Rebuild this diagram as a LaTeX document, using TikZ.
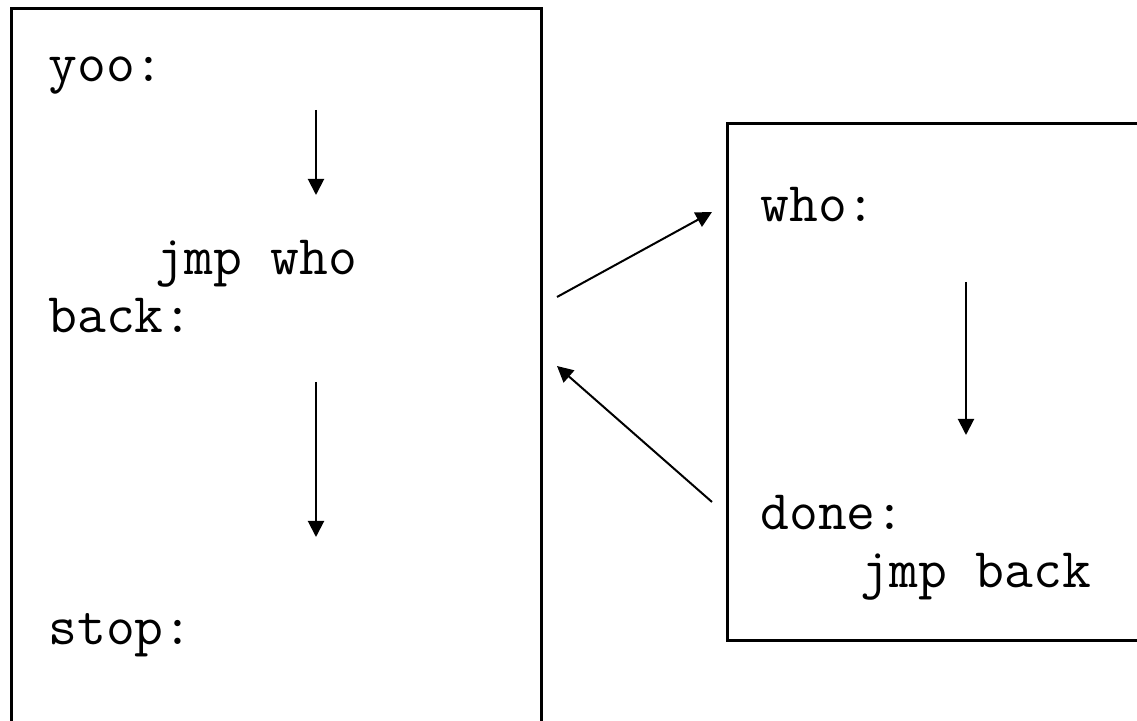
\documentclass[tikz,border=0pt]{standalone}
\usepackage{fontspec}
\usetikzlibrary{arrows.meta,positioning}

\tikzset{
  code/.style={anchor=base west, inner sep=0pt, font=\ttfamily\fontsize{28}{32}\selectfont},
  frame/.style={draw, line width=1.5pt},
  flow/.style={line width=1pt, -{Triangle[length=8pt,width=8pt]}}
}

\begin{document}
\begin{tikzpicture}[x=0.5pt, y=-0.5pt]
    \useasboundingbox (0,0) rectangle (1137,721);
    \clip (0,0) rectangle (1137,721);
    % Hauptprogramm
    \draw[frame] (11,9) rectangle (541,760);
    \node[code] (yoo) at (48,82) {yoo:};
    \node[code] (jmpwho) at (155,275) {jmp who};
    \node[code] (back) at (48,333) {back:};
    \node[code] (stop) at (48,645) {stop:};
    \coordinate (a1) at (316,110);
    \coordinate (a2) at (316,195);
    \coordinate (b1) at (316,382);
    \coordinate (b2) at (316,537);
    \draw[flow] (a1) -- (a2);
    \draw[flow] (b1) -- (b2);
    % Unterprogramm
    \draw[frame] (727,124) rectangle (1160,641);
    \node[code] (who) at (760,222) {who:};
    \node[code] (done) at (760,530) {done:};
    \node[code] (jmpback) at (860,588) {jmp back};
    \coordinate (c1) at (966,282);
    \coordinate (c2) at (966,435);
    \draw[flow] (c1) -- (c2);
    % Sprung hin und zurueck
    \coordinate (callfrom) at (557,297);
    \coordinate (callto) at (712,212);
    \coordinate (retfrom) at (712,502);
    \coordinate (retto) at (557,366);
    \draw[flow] (callfrom) -- (callto);
    \draw[flow] (retfrom) -- (retto);
\end{tikzpicture}
\end{document}
